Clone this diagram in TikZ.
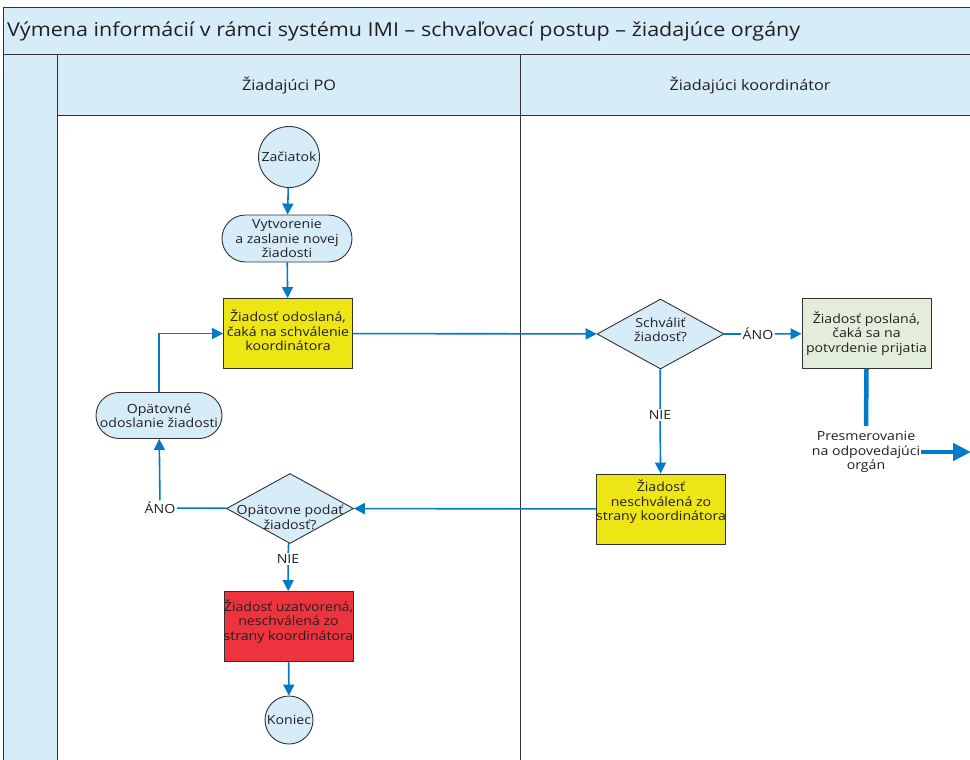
\documentclass[tikz,border=0pt]{standalone}
\usepackage{fontspec}
\setmainfont{Open Sans}[FakeStretch=1.12]
\usetikzlibrary{shapes.geometric,shapes.misc,arrows.meta}
\definecolor{lb}{RGB}{214,236,249}
\definecolor{bd}{RGB}{50,50,50}
\definecolor{tx}{RGB}{35,31,32}
\definecolor{fl}{RGB}{0,122,201}
\definecolor{ye}{RGB}{237,230,20}
\definecolor{rd}{RGB}{237,52,62}
\definecolor{gr}{RGB}{226,238,218}
\tikzset{
  shapeline/.style={draw=bd, line width=0.9pt},
  txt/.style={font=\fontsize{12.6}{14.5}\selectfont, text=tx, align=center},
  startend/.style={circle, shapeline, fill=lb, inner sep=0pt},
  stadium/.style={rounded rectangle, shapeline, fill=lb, inner sep=0pt, minimum width=130, minimum height=47},
  decision/.style={diamond, shapeline, fill=lb, inner sep=0pt, minimum width=127, minimum height=70},
  procbox/.style={rectangle, shapeline, minimum width=129, minimum height=70, inner sep=0pt},
  edgetxt/.style={txt, inner sep=1.5pt},
  flowline/.style={draw=fl, line width=1.6pt},
  flow/.style={flowline, -{Triangle[length=11pt,width=11pt]}},
  bigflow/.style={draw=fl, line width=4.5pt},
  frameline/.style={draw=bd, line width=1pt},
}
\begin{document}
\begin{tikzpicture}[x=1pt,y=-1pt]
\useasboundingbox (0,0) rectangle (970,760);
\clip (0,0) rectangle (970,760);
% frame
\fill[lb] (3,8) rectangle (990,115);
\fill[lb] (3,115) rectangle (57,780);
\draw[frameline] (990,8) -- (3,8) -- (3,780);
\draw[frameline] (3,55) -- (990,55);
\draw[frameline] (57,115) -- (990,115);
\draw[frameline] (57,55) -- (57,780);
\draw[frameline] (520,55) -- (520,780);
\node[anchor=west, text=tx, font=\fontsize{19.2}{21}\selectfont, inner sep=0pt] (title) at (7,31.5) {Výmena informácií v rámci systému IMI – schvaľovací postup – žiadajúce orgány};
\node[text=tx, font=\fontsize{14.5}{17}\selectfont] (lane1) at (289,85) {Žiadajúci PO};
\node[text=tx, font=\fontsize{14.5}{17}\selectfont] (lane2) at (750,85) {Žiadajúci koordinátor};
% nodes
\node[startend, minimum size=61, label={[txt]center:Začiatok}] (start) at (289,157) {};
\node[stadium, label={[txt]center:Vytvorenie\\a zaslanie novej\\žiadosti}] (create) at (287,238.5) {};
\node[procbox, fill=ye, label={[txt,yshift=3pt]center:Žiadosť odoslaná,\\čaká na schválenie\\koordinátora}] (sent) at (288,333.5) {};
\node[stadium, minimum width=126, minimum height=46, label={[txt]center:Opätovné\\odoslanie žiadosti}] (resend) at (159,415.5) {};
\node[decision, label={[txt,yshift=-9pt]center:Opätovne podať\\žiadosť?}] (again) at (290,508.5) {};
\node[procbox, fill=rd, label={[txt,yshift=5pt]center:Žiadosť uzatvorená,\\neschválená zo\\strany koordinátora}] (fail) at (288.5,626.5) {};
\node[startend, minimum size=48, label={[txt]center:Koniec}] (stop) at (289,720) {};
\node[decision, label={[txt,yshift=4pt]center:Schváliť\\žiadosť?}] (approve) at (660.5,334) {};
\node[procbox, fill=gr, label={[txt]center:Žiadosť poslaná,\\čaká sa na\\potvrdenie prijatia}] (fwd) at (866.5,333.5) {};
\node[procbox, fill=ye, label={[txt,yshift=7pt]center:Žiadosť\\neschválená zo\\strany koordinátora}] (rej) at (661,509) {};
% edge labels
\node[edgetxt] (ano1) at (758,334) {ÁNO};
\node[edgetxt] (nie1) at (660,415) {NIE};
\node[edgetxt] (ano2) at (160,508) {ÁNO};
\node[edgetxt] (nie2) at (288,559) {NIE};
\node[txt, inner sep=1pt] (redir) at (866,452) {Presmerovanie\\na odpovedajúci\\orgán};
\coordinate (out) at (971,452);
% connectors
\draw[flow] (start) -- (create);
\draw[flow] (create) -- (sent);
\draw[flow] (sent) -- (approve);
\draw[flowline] (approve) -- (ano1);
\draw[flow] (ano1) -- (fwd);
\draw[flowline] (approve) -- (nie1);
\draw[flow] (nie1) -- (rej);
\draw[flow] (rej) -- (again);
\draw[flowline] (again) -- (ano2);
\draw[flow] (ano2) -- (resend);
\draw[flow] (resend.north) |- (sent.west);
\draw[flowline] (again) -- (nie2);
\draw[flow] (nie2) -- (fail);
\draw[flow] (fail) -- (stop);
\draw[bigflow] (fwd.south) -- ([yshift=4pt]redir.north);
\draw[bigflow, -{Triangle[length=18pt,width=17pt]}] (redir.east) -- (out);
\end{tikzpicture}
\end{document}
